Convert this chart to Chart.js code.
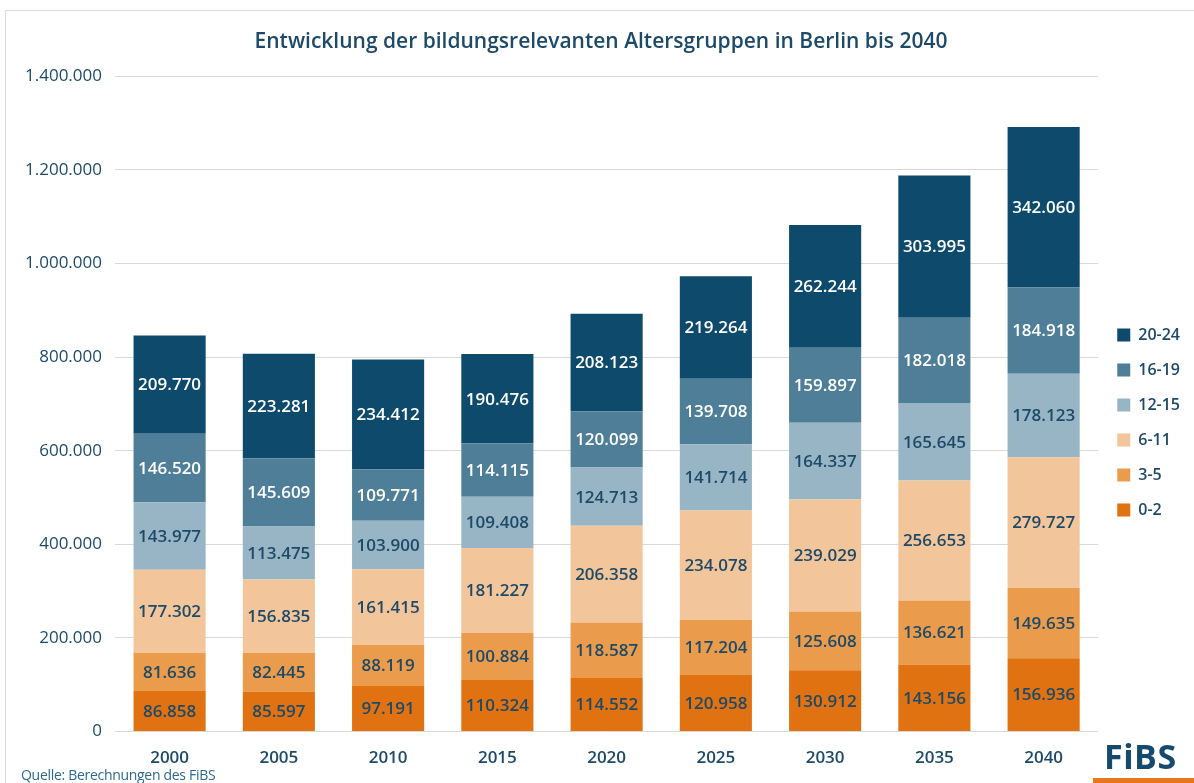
<!DOCTYPE html>
<html lang="de">
<head>
<meta charset="utf-8">
<title>Altersgruppen Berlin</title>
<script src="https://cdn.jsdelivr.net/npm/chart.js@4.4.1/dist/chart.umd.min.js"></script>
<style>
    html, body { margin: 0; padding: 0; background: #fff; }
    body { width: 1194px; height: 783px; overflow: hidden; position: relative; font-family: "Open Sans", sans-serif; }
    .frame { position: absolute; left: 5px; top: 10px; width: 1200px; height: 800px; border: 1px solid #dcdcdc; box-sizing: border-box; }
    .wrap { position: absolute; left: 0; top: 0; width: 1194px; height: 783px; }
    .source { position: absolute; left: 21px; top: 765px; font-size: 14px; color: #2a6a8e; letter-spacing: -0.3px; }
    .logo { position: absolute; left: 1104px; top: 733px; font-size: 34px; font-weight: 700; color: #154a6e; letter-spacing: 0.5px; }
    .logo-line { position: absolute; left: 1093px; top: 778px; width: 101px; height: 5px; background: #e8761a; }
</style>
</head>
<body>
<div class="frame"></div>
<div class="wrap"><canvas id="chart" width="1194" height="783"></canvas></div>
<div class="source">Quelle: Berechnungen des FiBS</div>
<div class="logo">FiBS</div>
<div class="logo-line"></div>
<script>
// --- Daten ---
const years = ['2000', '2005', '2010', '2015', '2020', '2025', '2030', '2035', '2040'];
const age0to2 = [86858, 85597, 97191, 110324, 114552, 120958, 130912, 143156, 156936];
const age3to5 = [81636, 82445, 88119, 100884, 118587, 117204, 125608, 136621, 149635];
const age6to11 = [177302, 156835, 161415, 181227, 206358, 234078, 239029, 256653, 279727];
const age12to15 = [143977, 113475, 103900, 109408, 124713, 141714, 164337, 165645, 178123];
const age16to19 = [146520, 145609, 109771, 114115, 120099, 139708, 159897, 182018, 184918];
const age20to24 = [209770, 223281, 234412, 190476, 208123, 219264, 262244, 303995, 342060];

const textBlue = '#1d4a68';

// deutsche Tausendertrennung
const fmt = (v) => String(Math.round(v)).replace(/\B(?=(\d{3})+(?!\d))/g, '.');

// Werte mittig in die Balken schreiben
const barLabels = {
    id: 'barLabels',
    afterDatasetsDraw(chart) {
        const { ctx } = chart;
        ctx.save();
        ctx.font = '600 17px "Open Sans", sans-serif';
        ctx.textAlign = 'center';
        ctx.textBaseline = 'middle';
        chart.data.datasets.forEach((ds, i) => {
            const meta = chart.getDatasetMeta(i);
            meta.data.forEach((bar, j) => {
                const p = bar.getCenterPoint();
                ctx.fillStyle = ds.labelColor;
                ctx.fillText(fmt(ds.data[j]), p.x, p.y + 1);
            });
        });
        ctx.restore();
    }
};

const ds = (label, data, color, labelColor) => ({
    label, data,
    backgroundColor: color,
    labelColor,
    barPercentage: 0.66,
    categoryPercentage: 1
});

new Chart(document.getElementById('chart'), {
    type: 'bar',
    data: {
        labels: years,
        datasets: [
            ds('0-2', age0to2, '#e07212', textBlue),
            ds('3-5', age3to5, '#eb9b4c', textBlue),
            ds('6-11', age6to11, '#f3c59a', textBlue),
            ds('12-15', age12to15, '#98b5c6', textBlue),
            ds('16-19', age16to19, '#4f7f98', '#ffffff'),
            ds('20-24', age20to24, '#0d4a6b', '#ffffff')
        ]
    },
    options: {
        responsive: false,
        animation: false,
        devicePixelRatio: 1,
        layout: { padding: { left: 12, right: 4, top: 29, bottom: 7 } },
        plugins: {
            title: {
                display: true,
                text: 'Entwicklung der bildungsrelevanten Altersgruppen in Berlin bis 2040',
                color: textBlue,
                font: { family: '"Open Sans", sans-serif', size: 21, weight: '600' },
                padding: { top: 0, bottom: 22 }
            },
            legend: {
                position: 'right',
                reverse: true,
                // leerer Titel schiebt die Legende etwas nach unten
                title: { display: true, text: ' ', font: { size: 10 }, padding: 14 },
                labels: {
                    boxWidth: 13,
                    boxHeight: 13,
                    padding: 19,
                    color: textBlue,
                    font: { family: '"Open Sans", sans-serif', size: 16, weight: '600', lineHeight: 1.25 }
                }
            },
            tooltip: { enabled: false }
        },
        scales: {
            x: {
                stacked: true,
                grid: { display: false },
                border: { display: false },
                ticks: {
                    color: textBlue,
                    padding: 8,
                    font: { family: '"Open Sans", sans-serif', size: 17, weight: '600' }
                }
            },
            y: {
                stacked: true,
                min: 0,
                max: 1400000,
                border: { display: false },
                grid: { color: '#d9d9d9', drawTicks: false },
                ticks: {
                    stepSize: 200000,
                    padding: 13,
                    color: textBlue,
                    callback: (v) => fmt(v),
                    font: { family: '"Open Sans", sans-serif', size: 17 }
                }
            }
        }
    },
    plugins: [barLabels]
});
</script>
</body>
</html>
